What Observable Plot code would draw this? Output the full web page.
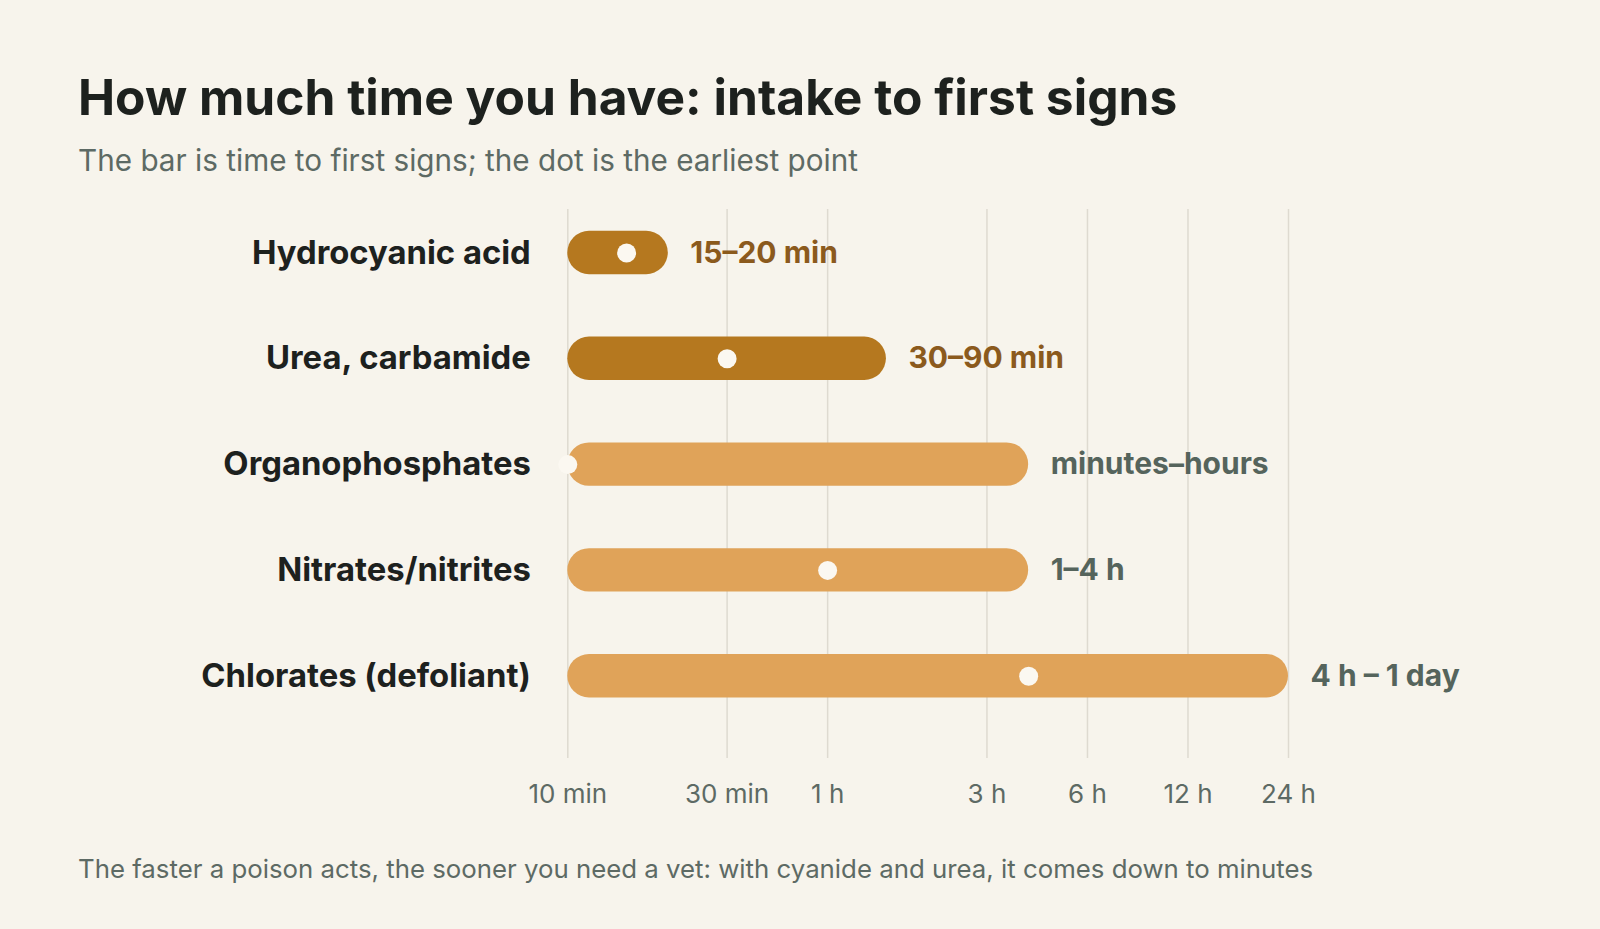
<!DOCTYPE html>
<html>
<head>
<meta charset="utf-8">
<script src="https://cdn.jsdelivr.net/npm/d3@7"></script>
<script src="https://cdn.jsdelivr.net/npm/@observablehq/plot@0.6"></script>
<style>
  html, body { margin: 0; padding: 0; background: #f7f4ec; }
  body { width: 1600px; height: 929px; position: relative; overflow: hidden; font-family: Inter, "Noto Sans", sans-serif; }
  #title { position: absolute; left: 78px; top: 73px; font-size: 49.7px; line-height: 49.7px; font-weight: 700; color: #1d211e; white-space: nowrap; }
  #subtitle { position: absolute; left: 78px; top: 146px; font-size: 29.7px; line-height: 29.7px; font-weight: 400; color: #5d6a64; white-space: nowrap; }
  #chart { position: absolute; left: 0; top: 190px; }
  #caption { position: absolute; left: 78px; top: 856.4px; font-size: 25.8px; line-height: 25.8px; font-weight: 400; color: #5d6a64; white-space: nowrap; }
</style>
</head>
<body>
<div id="title">How much time you have: intake to first signs</div>
<div id="subtitle">The bar is time to first signs; the dot is the earliest point</div>
<div id="chart"></div>
<div id="caption">The faster a poison acts, the sooner you need a vet: with cyanide and urea, it comes down to minutes</div>
<script>
// ---- data ----
const categories = ["Hydrocyanic acid", "Urea, carbamide", "Organophosphates", "Nitrates/nitrites", "Chlorates (defoliant)"];
const startMin = [10, 10, 10, 10, 10];          // bar start (minutes)
const endMin = [20, 90, 240, 240, 1440];        // bar end: time to first signs (minutes)
const earliestMin = [15, 30, 10, 60, 240];      // dot: earliest point (minutes)
const rangeLabels = ["15–20 min", "30–90 min", "minutes–hours", "1–4 h", "4 h – 1 day"];
const fastActing = [true, true, false, false, false];
const tickValues = [10, 30, 60, 180, 360, 720, 1440];
const tickLabels = ["10 min", "30 min", "1 h", "3 h", "6 h", "12 h", "24 h"];

// ---- styles ----
const BAR_DARK = "#b5781f", BAR_LIGHT = "#e0a359";
const TXT_DARK = "#8b5a1d", TXT_GRAY = "#55645c";
const DOT = "#fbf8f1", GRID = "#dedad0", INK = "#1d211e", MUTED = "#5d6a64";

const rows = categories.map((name, i) => ({
  name, start: startMin[i], end: endMin[i], earliest: earliestMin[i],
  label: rangeLabels[i], fast: fastActing[i]
}));

const chart = Plot.plot({
  width: 1600,
  height: 640,
  marginLeft: 567.3,
  marginRight: 312,
  marginTop: 19,
  marginBottom: 72,
  style: { background: "transparent", fontFamily: "Inter, 'Noto Sans', sans-serif", fontSize: "26px" },
  x: { type: "log", domain: [10, 1440], label: null, axis: null },
  y: { domain: categories, range: [9.6, 538.6], padding: 0, round: false, axis: null },
  color: { type: "identity" },
  marks: [
    Plot.gridX(tickValues, { stroke: GRID, strokeOpacity: 1, strokeWidth: 1.5 }),
    Plot.axisX(tickValues, {
      text: d => tickLabels[tickValues.indexOf(d)],
      tickSize: 0, tickPadding: 26, fontSize: 26, fontVariant: "normal", color: MUTED, label: null
    }),
    Plot.barX(rows, {
      x1: "start", x2: "end", y: "name",
      fill: d => d.fast ? BAR_DARK : BAR_LIGHT,
      insetTop: 31.2, insetBottom: 31.2, rx: 21.7
    }),
    Plot.dot(rows, { x: "earliest", y: "name", r: 9.5, fill: DOT, stroke: null }),
    Plot.text(rows, {
      x: "end", y: "name", text: "label", textAnchor: "start", dx: 22,
      fontSize: 30, fontWeight: 700, fill: d => d.fast ? TXT_DARK : TXT_GRAY
    }),
    Plot.text(rows, {
      y: "name", text: "name", frameAnchor: "left", textAnchor: "end", dx: -37,
      fontSize: 32.8, fontWeight: 700, fill: INK
    })
  ]
});
document.getElementById("chart").appendChild(chart);
</script>
</body>
</html>
